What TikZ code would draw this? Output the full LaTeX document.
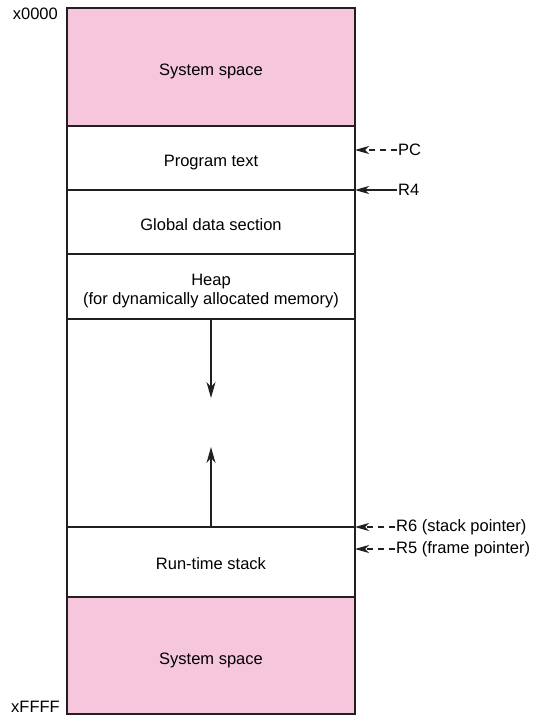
\documentclass[tikz,border=0pt]{standalone}
\usepackage{fontspec}
\setmainfont{Liberation Sans}
\usetikzlibrary{arrows.meta,positioning}
\definecolor{syspink}{HTML}{F6C6DC}
\definecolor{ink}{HTML}{231F20}

\begin{document}
\begin{tikzpicture}[
  x=1pt, y=-1pt,
  region/.style={draw=ink, line width=1.3pt, minimum width=288pt, outer sep=0pt,
                 inner sep=0pt, align=center, text height=17pt, text depth=0pt,
                 font=\fontsize{16.5}{19}\selectfont},
  ptrlabel/.style={inner sep=1pt, anchor=west, font=\fontsize{16.5}{21}\selectfont},
  addr/.style={inner sep=1pt, font=\fontsize{16.5}{21}\selectfont},
  ptr/.style={-{Stealth[length=14pt, width=8pt, inset=4pt]}, line width=1.1pt, draw=ink},
  growarr/.style={-{Stealth[length=16pt, width=9pt, inset=5pt]}, line width=1.1pt, draw=ink},
  dashptr/.style={ptr, dash pattern=on 6pt off 5pt}
]
  \useasboundingbox (0,0) rectangle (538,722);

  % memory regions, top to bottom
  \node[region, fill=syspink, minimum height=118pt, anchor=north west] (systop) at (67,8) {System space};
  \node[region, minimum height=64pt, below=0pt of systop] (prog) {Program text};
  \node[region, minimum height=64pt, below=0pt of prog] (glob) {Global data section};
  \node[region, minimum height=65pt, text height=36pt, below=0pt of glob] (heap) {Heap\\(for dynamically allocated memory)};
  \node[region, minimum height=208pt, below=0pt of heap] (free) {};
  \node[region, minimum height=70pt, text height=15pt, below=0pt of free] (stack) {Run-time stack};
  \node[region, fill=syspink, minimum height=117pt, below=0pt of stack] (sysbot) {System space};

  % heap and stack growth
  \coordinate[below=79pt of free.north] (heapend);
  \coordinate[above=80pt of free.south] (stackend);
  \draw[growarr] (free.north) -- (heapend);
  \draw[growarr] (free.south) -- (stackend);

  % addresses
  \node[addr, anchor=north east] (lo) at ([xshift=-8pt, yshift=1pt]systop.north west) {x0000};
  \node[addr, anchor=south east] (hi) at ([xshift=-6pt]sysbot.south west) {xFFFF};

  % register pointers
  \node[ptrlabel, right=42pt of prog.east, yshift=8pt] (pc) {PC};
  \node[ptrlabel, right=42pt of prog.south east] (rfour) {R4};
  \node[ptrlabel, right=40pt of free.south east] (rsix) {R6 (stack pointer)};
  \node[ptrlabel, right=40pt of stack.north east, yshift=-22pt] (rfive) {R5 (frame pointer)};

  \draw[dashptr] (pc.west) -- (pc.west -| prog.east);
  \draw[ptr] (rfour.west) -- (rfour.west -| prog.east);
  \draw[dashptr] (rsix.west) -- (rsix.west -| free.east);
  \draw[dashptr] (rfive.west) -- (rfive.west -| stack.east);
\end{tikzpicture}
\end{document}
